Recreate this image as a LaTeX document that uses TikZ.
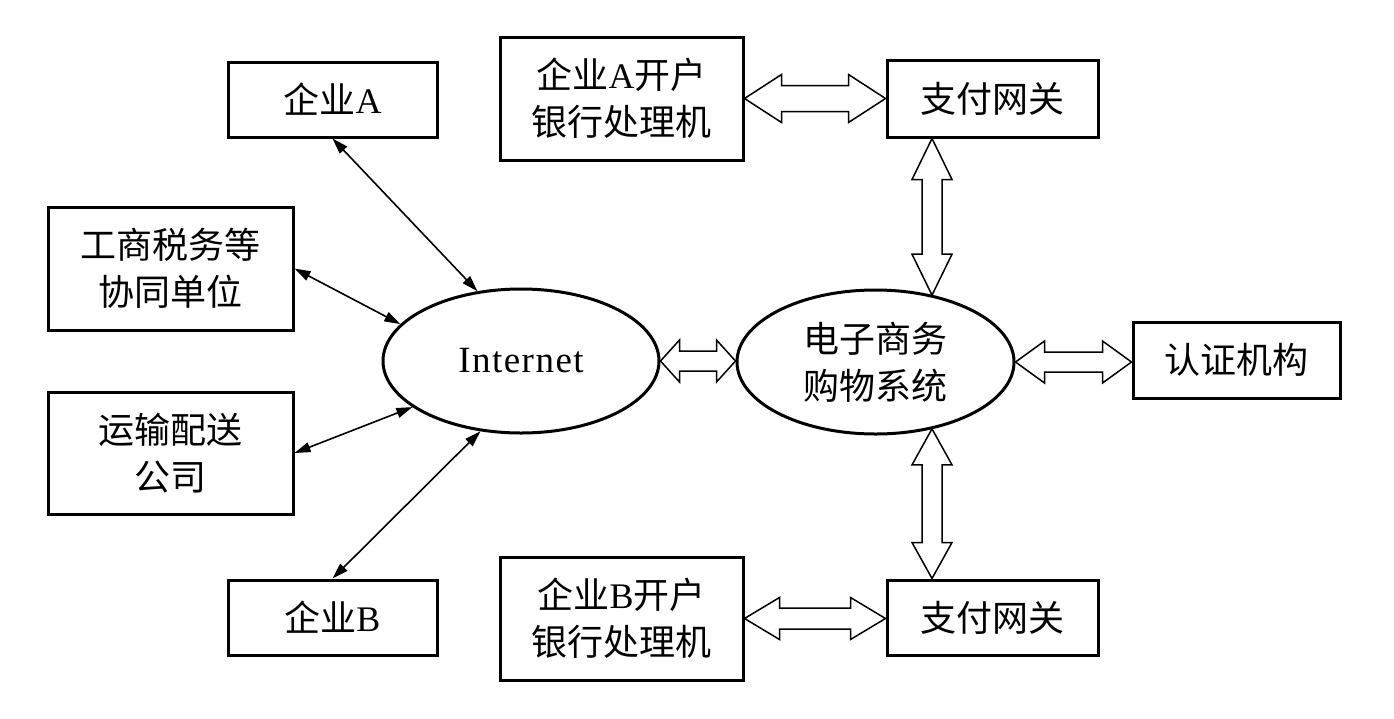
\documentclass[tikz,border=0pt]{standalone}
\usepackage{fontspec}
\setmainfont{Liberation Serif}
\newfontfamily\cjk{Noto Sans CJK SC}
\usetikzlibrary{shapes.geometric,arrows.meta,calc}
\newcommand\hdar[5]{%
\draw[hollowar] let \p1=#1, \p2=#2 in
 (\x1,\y1) -- (\x1+#5pt,\y1+#4pt) -- (\x1+#5pt,\y1+#3pt) -- (\x2-#5pt,\y1+#3pt) -- (\x2-#5pt,\y1+#4pt) -- (\x2,\y1)
 -- (\x2-#5pt,\y1-#4pt) -- (\x2-#5pt,\y1-#3pt) -- (\x1+#5pt,\y1-#3pt) -- (\x1+#5pt,\y1-#4pt) -- cycle;}
\newcommand\vdar[5]{%
\draw[hollowar] let \p1=#1, \p2=#2 in
 (\x1,\y1) -- (\x1+#4pt,\y1-#5pt) -- (\x1+#3pt,\y1-#5pt) -- (\x1+#3pt,\y2+#5pt) -- (\x1+#4pt,\y2+#5pt) -- (\x1,\y2)
 -- (\x1-#4pt,\y2+#5pt) -- (\x1-#3pt,\y2+#5pt) -- (\x1-#3pt,\y1-#5pt) -- (\x1-#4pt,\y1-#5pt) -- cycle;}
\begin{document}
\begin{tikzpicture}[x=1pt,y=-1pt,
  bx/.style={draw, line width=3pt, inner sep=0pt, align=center,
    font=\fontsize{36}{47}\selectfont},
  ell/.style={draw, ellipse, line width=3pt, inner sep=0pt, align=center,
    minimum width=276pt, minimum height=144pt, font=\fontsize{36}{47}\selectfont},
  conn/.style={line width=1.6pt, {Triangle[length=16pt,width=10pt]}-{Triangle[length=16pt,width=10pt]}},
  hollowar/.style={draw, line width=1.5pt, fill=white, line join=miter}]
\useasboundingbox (0,0) rectangle (1394,718);
\fill[white] (0,0) rectangle (1394,718);
% boxes
\node[bx, minimum width=209pt, minimum height=75pt] (qA) at (332.5,99.5) {{\cjk 企业}A};
\node[bx, minimum width=245pt, minimum height=123pt] (gs) at (170.5,268.5) {\cjk 工商税务等\\\cjk 协同单位};
\node[bx, minimum width=245pt, minimum height=122pt] (ys) at (170.5,453) {\cjk 运输配送\\\cjk 公司};
\node[bx, minimum width=209pt, minimum height=75pt] (qB) at (332.5,617.5) {{\cjk 企业}B};
\node[bx, minimum width=243pt, minimum height=123pt] (bankA) at (621.5,98.5) {{\cjk 企业}A{\cjk 开户}\\\cjk 银行处理机};
\node[bx, minimum width=211pt, minimum height=77pt] (gw1) at (992.5,98.5) {\cjk 支付网关};
\node[bx, minimum width=243pt, minimum height=123pt] (bankB) at (621.5,618.5) {{\cjk 企业}B{\cjk 开户}\\\cjk 银行处理机};
\node[bx, minimum width=211pt, minimum height=75pt] (gw2) at (992.5,617.5) {\cjk 支付网关};
\node[bx, minimum width=207pt, minimum height=76pt] (cert) at (1236.5,360) {\cjk 认证机构};
% ellipses
\node[ell, font=\fontsize{37}{40}\selectfont\addfontfeature{LetterSpace=4}] (inet) at (521,361) {Internet};
\node[ell, minimum width=277pt] (ecom) at (875.5,362) {\cjk 电子商务\\\cjk 购物系统};
% thin connectors
\draw[conn] (qA.south) -- (inet.122);
\draw[conn] (gs.east) -- (inet.163);
\draw[conn] (ys.east) -- (inet.203);
\draw[conn] (qB.north) -- (inet.240);
% hollow double arrows
\coordinate (vx) at (932,0);
\hdar{(inet.east)}{(ecom.west)}{10}{21}{19}
\hdar{(ecom.east)}{(cert.west)}{10}{21}{29}
\hdar{(bankA.east)}{(gw1.west)}{13}{24}{37}
\hdar{(bankB.east)}{(gw2.west)}{10.5}{21}{35}
\vdar{(vx |- gw1.south)}{(vx |- ecom.49)}{10}{20}{41}
\vdar{(vx |- ecom.-49)}{(vx |- gw2.north)}{10}{20}{36}
\end{tikzpicture}
\end{document}
